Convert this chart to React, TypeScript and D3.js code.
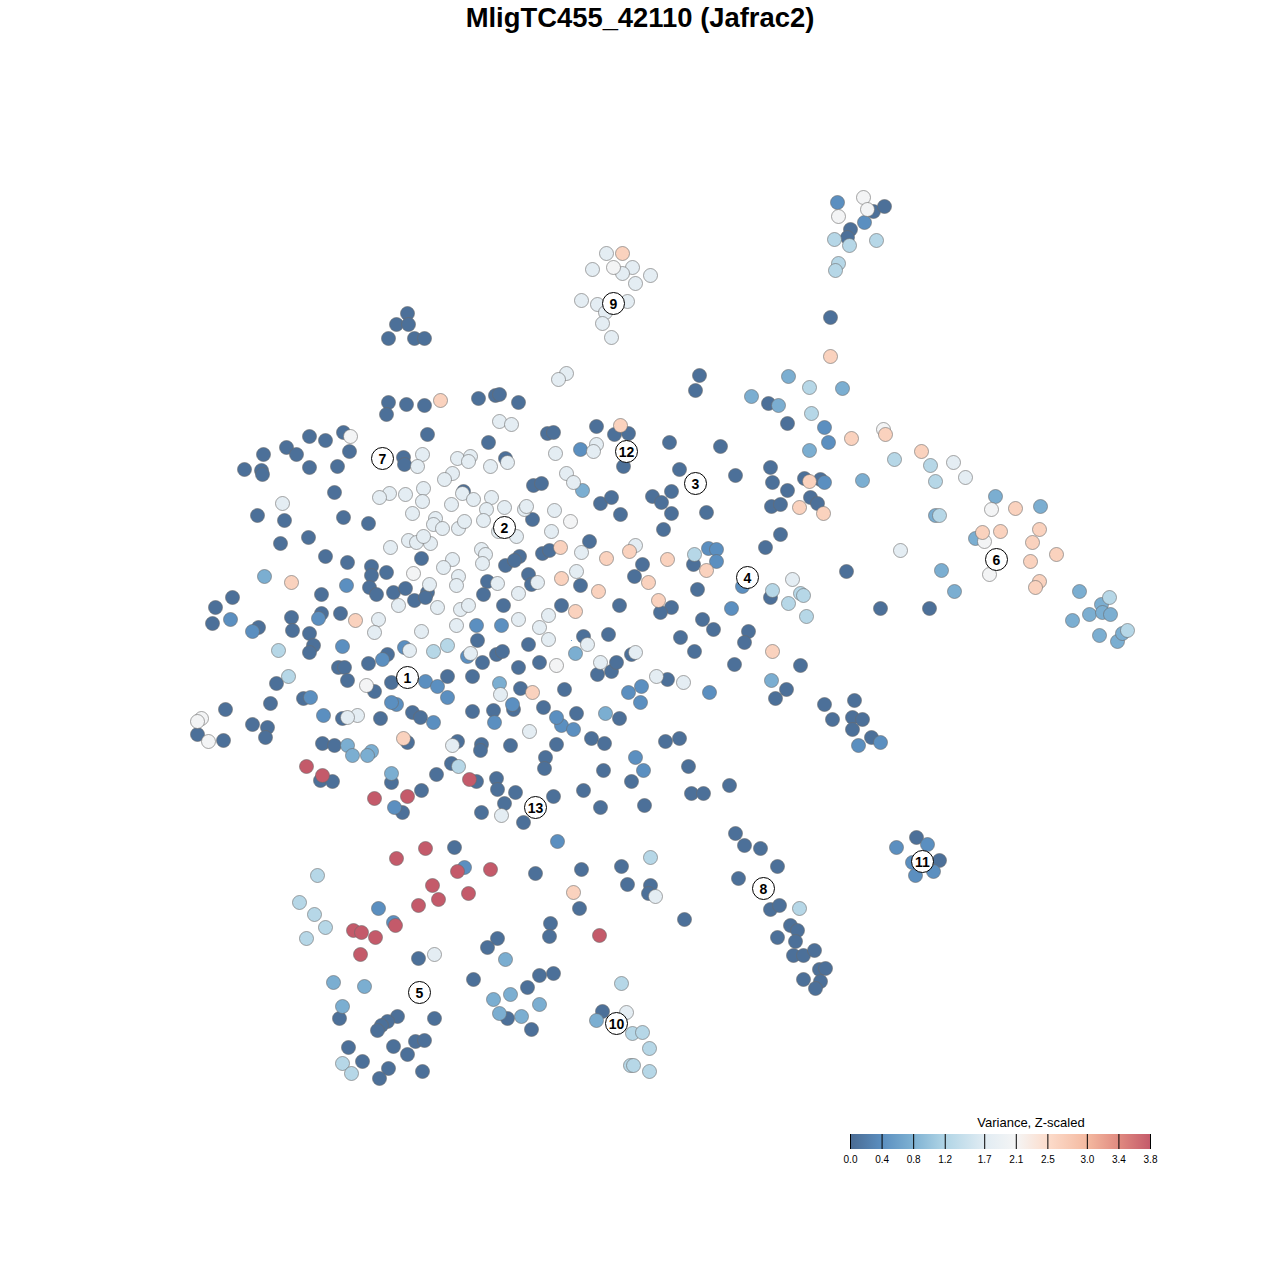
import React from "react";
import * as d3 from "d3";

type P = [number, number];
const title = "MligTC455_42110 (Jafrac2)";
const legendTitle = "Variance, Z-scaled";
const legendTicks = [0.0, 0.4, 0.8, 1.2, 1.7, 2.1, 2.5, 3.0, 3.4, 3.8];
const legendColors = ["#4a6b93", "#5b8fc0", "#7fb2d3", "#b1d5e6", "#e1ecf3", "#f5f5f5", "#fcdccb", "#f4b9a0", "#e08a80", "#c45a6a"];

const veryLow: P[] = [[873,211],[884,206],[850,229],[847,237],[830,317],[407,313],[396,324],[408,324],[388,338],[414,338],[424,338],[699,375],[695,390],[388,402],[386,414],[406,404],[424,405],[478,398],[495,395],[499,394],[518,402],[427,434],[547,433],[553,432],[596,426],[628,433],[614,434],[488,442],[669,442],[720,446],[787,423],[768,403],[309,436],[325,440],[343,432],[286,447],[263,454],[296,454],[349,451],[244,469],[261,470],[262,474],[309,467],[337,466],[403,457],[404,464],[505,458],[623,466],[679,469],[735,475],[770,467],[772,482],[787,490],[804,478],[820,479],[533,485],[541,483],[334,492],[463,491],[600,503],[611,497],[652,496],[661,502],[671,491],[620,514],[671,513],[706,512],[771,506],[780,504],[810,497],[817,503],[257,515],[284,520],[343,517],[368,523],[532,519],[663,529],[308,537],[280,543],[780,534],[765,547],[589,541],[325,556],[347,562],[421,558],[519,556],[542,553],[549,550],[505,565],[514,560],[642,564],[693,564],[846,571],[371,566],[371,575],[386,572],[369,587],[376,594],[393,592],[405,588],[414,600],[427,592],[425,597],[487,581],[483,594],[528,574],[531,584],[580,585],[634,576],[697,589],[770,597],[321,594],[215,607],[232,597],[291,617],[321,613],[340,613],[503,605],[561,605],[619,605],[671,607],[660,612],[880,608],[929,608],[212,623],[258,627],[292,630],[309,633],[313,645],[702,619],[713,629],[748,631],[744,642],[680,637],[477,640],[528,644],[583,636],[608,634],[631,654],[694,651],[309,652],[338,667],[344,667],[368,663],[387,654],[347,680],[276,683],[374,691],[391,682],[447,676],[472,676],[482,662],[496,654],[502,651],[518,667],[539,662],[597,674],[611,671],[616,662],[667,679],[734,664],[800,665],[786,689],[775,698],[564,689],[520,688],[270,703],[303,698],[225,709],[252,724],[267,727],[265,737],[223,740],[197,734],[342,718],[380,718],[412,712],[420,717],[472,711],[493,710],[513,709],[543,707],[576,713],[619,718],[824,704],[854,700],[832,719],[852,717],[862,719],[852,729],[871,737],[322,743],[334,745],[407,742],[457,741],[481,744],[480,750],[510,745],[591,738],[604,743],[665,741],[679,738],[556,744],[545,757],[544,768],[603,770],[688,766],[729,785],[436,774],[451,763],[476,781],[496,778],[497,789],[515,792],[320,780],[332,781],[391,782],[421,790],[553,796],[583,790],[631,781],[691,793],[703,793],[504,803],[600,807],[644,805],[402,812],[481,812],[523,822],[735,833],[744,845],[760,848],[777,866],[738,878],[454,847],[535,873],[581,869],[621,866],[627,884],[650,885],[648,893],[579,908],[684,919],[770,909],[779,905],[777,937],[790,925],[797,930],[795,941],[793,955],[803,955],[814,950],[819,969],[825,968],[820,981],[803,979],[815,988],[916,837],[939,860],[550,923],[549,936],[497,938],[487,947],[418,958],[473,979],[539,975],[553,973],[527,987],[602,1011],[507,1018],[531,1029],[434,1018],[397,1016],[387,1021],[381,1025],[377,1030],[339,1018],[348,1047],[393,1046],[415,1041],[424,1040],[407,1054],[362,1061],[388,1068],[379,1078],[422,1071]];

const low: P[] = [[837,202],[864,222],[580,449],[476,625],[501,625],[346,585],[318,618],[342,646],[404,647],[382,659],[425,681],[437,686],[447,697],[396,704],[391,702],[433,722],[494,722],[512,704],[561,725],[573,729],[556,717],[640,702],[628,692],[641,686],[709,692],[731,608],[708,548],[716,549],[716,561],[742,586],[467,656],[252,631],[230,619],[310,697],[323,715],[635,757],[643,770],[858,745],[880,742],[896,847],[927,844],[912,862],[915,875],[933,871],[557,841],[464,867],[394,807],[378,908],[393,922],[824,427],[828,442],[824,482]];

const midLow: P[] = [[264,576],[575,653],[751,396],[788,376],[778,405],[842,388],[862,480],[809,450],[995,496],[1040,506],[935,515],[941,570],[954,591],[1079,591],[1072,620],[1089,614],[1099,635],[1101,604],[1102,612],[1110,614],[1117,641],[1122,633],[975,538],[771,680],[605,713],[582,490],[499,683],[347,745],[352,755],[391,773],[371,751],[367,755],[333,982],[364,986],[342,1006],[505,959],[493,999],[510,994],[539,1004],[521,1016],[499,1013],[596,1020]];

const mid: P[] = [[876,240],[849,245],[834,239],[838,263],[835,270],[1109,597],[1127,630],[799,908],[650,857],[317,875],[299,902],[314,914],[325,927],[306,938],[342,1063],[351,1073],[621,983],[632,1033],[642,1032],[649,1048],[630,1065],[633,1065],[649,1071],[278,650],[288,676],[809,387],[811,413],[894,459],[930,465],[935,481],[772,590],[788,603],[800,593],[803,595],[806,616],[694,554],[447,645],[433,651],[939,515],[458,766]];

const pale: P[] = [[606,253],[592,269],[632,267],[622,273],[650,275],[635,283],[581,300],[597,304],[627,301],[605,312],[602,323],[611,337],[566,373],[558,379],[499,421],[511,424],[596,444],[593,451],[555,453],[457,458],[470,456],[468,461],[422,454],[417,466],[490,466],[507,462],[452,473],[444,479],[566,473],[573,482],[423,488],[405,494],[389,493],[379,497],[422,501],[462,493],[473,499],[491,497],[486,509],[504,507],[524,509],[526,506],[554,510],[451,504],[282,503],[412,513],[435,518],[433,524],[442,528],[458,528],[464,521],[483,520],[498,531],[516,536],[551,531],[900,550],[408,540],[416,542],[430,543],[423,536],[390,547],[481,549],[485,554],[482,563],[452,559],[443,567],[581,552],[635,545],[576,571],[458,576],[429,584],[456,585],[497,583],[518,593],[537,582],[437,607],[398,605],[378,619],[374,632],[460,609],[468,605],[456,625],[518,619],[548,615],[539,627],[548,639],[421,631],[409,650],[470,653],[587,644],[635,652],[600,662],[357,715],[347,717],[500,694],[529,731],[452,745],[501,815],[655,896],[434,954],[626,1012],[683,682],[656,676],[953,462],[965,477],[792,579]];

const neutral: P[] = [[863,197],[867,209],[838,216],[350,436],[201,718],[197,721],[208,741],[366,685],[413,573],[570,521],[556,665],[989,574],[984,541],[991,509],[883,429],[613,267]];

const warm: P[] = [[622,253],[830,356],[440,400],[620,425],[851,438],[885,434],[921,451],[809,481],[799,507],[823,513],[560,547],[606,558],[629,551],[667,559],[706,570],[561,578],[598,591],[648,582],[658,600],[575,611],[291,582],[355,620],[403,738],[532,692],[772,651],[573,892],[1015,508],[1000,531],[982,532],[1039,529],[1032,542],[1030,561],[1056,554],[1039,581],[1035,587]];

const high: P[] = [[306,766],[322,775],[374,798],[407,796],[469,779],[396,858],[425,848],[490,869],[457,871],[432,885],[468,893],[438,899],[418,905],[353,930],[361,932],[375,937],[395,925],[360,954],[599,935]];

const groups: { pts: P[]; v: number }[] = [
  { pts: veryLow, v: 0.05 },
  { pts: low, v: 0.4 },
  { pts: midLow, v: 0.75 },
  { pts: mid, v: 1.25 },
  { pts: pale, v: 1.75 },
  { pts: neutral, v: 2.05 },
  { pts: warm, v: 2.65 },
  { pts: high, v: 3.8 },
];

const speck: P[] = [[571, 640]];

const clusterIds = [1, 2, 3, 4, 5, 6, 7, 8, 9, 10, 11, 12, 13];
const clusterX = [407, 504, 695, 747, 419, 996, 382, 763, 613, 616, 922, 626, 535];
const clusterY = [677, 527, 483, 577, 992, 559, 458, 888, 303, 1023, 861, 451, 807];

const SIZE = 1280;
const FONT = "'Liberation Sans', Arial, sans-serif";

export default function App() {
  const x = d3.scaleLinear().domain([0, SIZE]).range([0.5, SIZE + 0.5]);
  const y = d3.scaleLinear().domain([0, SIZE]).range([0.5, SIZE + 0.5]);
  const color = d3.scaleLinear<string>().domain(legendTicks).range(legendColors).interpolate(d3.interpolateRgb);
  const lx = d3.scaleLinear().domain([0, 3.8]).range([850.5, 1150.5]);
  const barTop = 1134;
  const barH = 15;
  return (
    <svg width={SIZE} height={SIZE} style={{ position: "absolute", left: 0, top: 0, background: "#fff" }} fontFamily={FONT}>
      <defs>
        <linearGradient id="lg" x1="0" x2="1" y1="0" y2="0">
          {legendTicks.map((t, i) => (
            <stop key={t} offset={t / 3.8} stopColor={legendColors[i]} />
          ))}
        </linearGradient>
      </defs>
      <text x={640} y={27} textAnchor="middle" fontSize={27.4} fontWeight="bold" fill="#000">{title}</text>
      {groups.map((g, i) => (
        <g key={i}>
          {g.pts.map((p, j) => (
            <circle key={j} cx={x(p[0])} cy={y(p[1])} r={7} fill={color(g.v)} stroke="#6a6a6a" strokeOpacity={0.6} strokeWidth={1} />
          ))}
        </g>
      ))}
      {speck.map((p, i) => (
        <circle key={i} cx={x(p[0])} cy={y(p[1])} r={0.6} fill="#5b8fc0" />
      ))}
      {clusterIds.map((id, i) => (
        <g key={id}>
          <circle cx={x(clusterX[i])} cy={y(clusterY[i])} r={11} fill="#fff" stroke="#000" strokeWidth={1} />
          <text x={x(clusterX[i])} y={y(clusterY[i]) + 5} textAnchor="middle" fontSize={14} fontWeight="bold" fill="#000">{id}</text>
        </g>
      ))}
      <text x={1031} y={1127} textAnchor="middle" fontSize={13} fill="#000">{legendTitle}</text>
      <rect x={lx(0)} y={barTop} width={lx(3.8) - lx(0)} height={barH} fill="url(#lg)" />
      {legendTicks.map((t) => (
        <g key={t}>
          <line x1={lx(t)} x2={lx(t)} y1={barTop} y2={barTop + barH} stroke="#000" strokeWidth={1} />
          <text x={lx(t)} y={1163} textAnchor="middle" fontSize={10} fill="#000">{t.toFixed(1)}</text>
        </g>
      ))}
    </svg>
  );
}
